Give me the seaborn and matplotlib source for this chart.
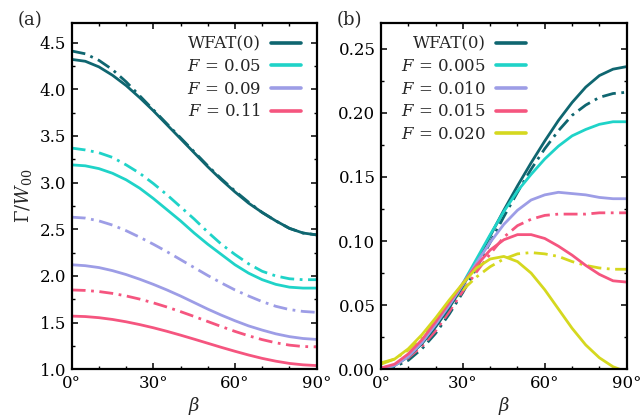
import numpy as np
import pandas as pd
import matplotlib
matplotlib.use("Agg")
import matplotlib.pyplot as plt
from matplotlib.ticker import MultipleLocator, FormatStrFormatter
from matplotlib.lines import Line2D
import seaborn as sns

# ---------------- data ----------------
beta = [0, 5, 10, 15, 20, 25, 30, 35, 40, 45, 50, 55, 60, 65, 70, 75, 80, 85, 90]

# panel (a)
a_labels = ["WFAT(0)", "$F$ = 0.05", "$F$ = 0.09", "$F$ = 0.11"]
a_wfat_solid = [4.32, 4.30, 4.24, 4.15, 4.04, 3.91, 3.77, 3.62, 3.47, 3.32, 3.17, 3.03, 2.90, 2.78, 2.68, 2.59, 2.51, 2.46, 2.44]
a_wfat_dash = [4.41, 4.38, 4.31, 4.21, 4.08, 3.93, 3.78, 3.63, 3.48, 3.33, 3.18, 3.04, 2.91, 2.79, 2.68, 2.59, 2.51, 2.46, 2.44]
a_f005_solid = [3.19, 3.18, 3.15, 3.10, 3.03, 2.94, 2.83, 2.71, 2.59, 2.46, 2.34, 2.23, 2.12, 2.03, 1.96, 1.91, 1.88, 1.87, 1.87]
a_f005_dash = [3.37, 3.35, 3.32, 3.27, 3.19, 3.10, 2.99, 2.87, 2.74, 2.61, 2.47, 2.34, 2.23, 2.13, 2.05, 2.00, 1.97, 1.96, 1.96]
a_f009_solid = [2.12, 2.11, 2.09, 2.057, 2.015, 1.965, 1.91, 1.85, 1.785, 1.715, 1.645, 1.58, 1.52, 1.465, 1.42, 1.38, 1.35, 1.33, 1.32]
a_f009_dash = [2.63, 2.62, 2.59, 2.545, 2.485, 2.415, 2.34, 2.26, 2.175, 2.09, 2.005, 1.925, 1.85, 1.785, 1.725, 1.675, 1.64, 1.62, 1.61]
a_f011_solid = [1.57, 1.565, 1.553, 1.534, 1.509, 1.479, 1.445, 1.407, 1.366, 1.323, 1.279, 1.235, 1.193, 1.153, 1.117, 1.087, 1.063, 1.048, 1.04]
a_f011_dash = [1.85, 1.845, 1.833, 1.813, 1.786, 1.752, 1.712, 1.667, 1.618, 1.566, 1.512, 1.458, 1.406, 1.359, 1.318, 1.284, 1.259, 1.244, 1.24]

# panel (b)
b_labels = ["WFAT(0)", "$F$ = 0.005", "$F$ = 0.010", "$F$ = 0.015", "$F$ = 0.020"]
b_wfat_solid = [0.000, 0.003, 0.010, 0.020, 0.033, 0.048, 0.065, 0.084, 0.104, 0.124, 0.143, 0.161, 0.178, 0.194, 0.208, 0.220, 0.229, 0.234, 0.236]
b_wfat_dash = [0.000, 0.002, 0.007, 0.016, 0.028, 0.043, 0.060, 0.079, 0.099, 0.119, 0.138, 0.156, 0.172, 0.186, 0.198, 0.206, 0.212, 0.215, 0.216]
b_f005_solid = [0.000, 0.003, 0.010, 0.021, 0.035, 0.050, 0.067, 0.086, 0.105, 0.123, 0.139, 0.152, 0.164, 0.174, 0.182, 0.187, 0.191, 0.193, 0.193]
b_f010_solid = [0.000, 0.003, 0.010, 0.021, 0.035, 0.050, 0.066, 0.083, 0.099, 0.113, 0.124, 0.132, 0.136, 0.138, 0.137, 0.136, 0.134, 0.133, 0.133]
b_f015_solid = [0.001, 0.004, 0.012, 0.023, 0.037, 0.052, 0.067, 0.081, 0.093, 0.101, 0.105, 0.105, 0.102, 0.096, 0.089, 0.081, 0.074, 0.069, 0.068]
b_f015_dash = [0.001, 0.003, 0.009, 0.018, 0.030, 0.045, 0.061, 0.076, 0.090, 0.103, 0.112, 0.117, 0.120, 0.121, 0.121, 0.121, 0.122, 0.122, 0.122]
b_f020_solid = [0.004, 0.008, 0.016, 0.027, 0.040, 0.054, 0.067, 0.079, 0.086, 0.088, 0.084, 0.075, 0.062, 0.047, 0.032, 0.019, 0.009, 0.002, -0.002]
b_f020_dash = [0.005, 0.008, 0.015, 0.025, 0.037, 0.050, 0.062, 0.072, 0.080, 0.086, 0.090, 0.091, 0.090, 0.088, 0.084, 0.081, 0.079, 0.078, 0.078]

colors = ["#0f6670", "#1fd3c8", "#9d9de6", "#f5557f", "#d5d81f"]

# ---------------- style ----------------
sns.set_theme(style="ticks")
plt.rcParams["font.family"] = ["DejaVu Serif"]
plt.rcParams["mathtext.fontset"] = "dejavuserif"
plt.rcParams["font.size"] = 12

fig = plt.figure(figsize=(6.44, 4.18), dpi=100)
axA = fig.add_axes([0.1113, 0.1165, 0.3804, 0.8285])
axB = fig.add_axes([0.5916, 0.1165, 0.3815, 0.8285])

LW = 2.0
DASH = (5.0, 2.0, 1.0, 2.0)


def draw(ax, y, color, dashed):
    df = pd.DataFrame({"beta": beta, "val": y})
    sns.lineplot(data=df, x="beta", y="val", ax=ax, color=color, lw=LW, legend=False)
    line = ax.lines[-1]
    if dashed:
        line.set_dashes(DASH)
    line.set_solid_capstyle("butt")
    line.set_dash_capstyle("butt")
    line.set_solid_joinstyle("round")


# panel (a) — draw dashed first, solid on top
a_dash = [a_wfat_dash, a_f005_dash, a_f009_dash, a_f011_dash]
a_solid = [a_wfat_solid, a_f005_solid, a_f009_solid, a_f011_solid]
for y, c in zip(a_dash, colors):
    draw(axA, y, c, True)
for y, c in zip(a_solid, colors):
    draw(axA, y, c, False)

# panel (b)
b_solid = [b_wfat_solid, b_f005_solid, b_f010_solid, b_f015_solid, b_f020_solid]
b_dash = [(b_wfat_dash, colors[0]), (b_f015_dash, colors[3]), (b_f020_dash, colors[4])]
for y, c in b_dash:
    draw(axB, y, c, True)
for y, c in zip(b_solid, colors):
    draw(axB, y, c, False)

for ax in (axA, axB):
    ax.set_xlim(0, 90)
    ax.set_xticks([0, 30, 60, 90])
    ax.set_xticklabels(["0°", "30°", "60°", "90°"])
    ax.xaxis.set_minor_locator(MultipleLocator(10))
    ax.tick_params(which="both", direction="in", top=True, right=True,
                   labelsize=12, pad=4, colors="black")
    ax.tick_params(which="major", length=4, width=1.1)
    ax.tick_params(which="minor", length=2.5, width=1.0)
    for s in ax.spines.values():
        s.set_linewidth(1.6)
        s.set_color("black")
    ax.set_xlabel(r"$\beta$", fontsize=13, labelpad=2)

axA.set_ylim(1.0, 4.71)
axA.set_yticks([1.0, 1.5, 2.0, 2.5, 3.0, 3.5, 4.0, 4.5])
axA.yaxis.set_major_formatter(FormatStrFormatter("%.1f"))
axA.yaxis.set_minor_locator(MultipleLocator(0.25))
axA.set_ylabel(r"$\mathit{\Gamma}/W_{00}$", fontsize=13, labelpad=4)

axB.set_ylim(0.0, 0.270)
axB.set_yticks([0.0, 0.05, 0.10, 0.15, 0.20, 0.25])
axB.yaxis.set_major_formatter(FormatStrFormatter("%.2f"))
axB.yaxis.set_minor_locator(MultipleLocator(0.025))
axB.set_ylabel("")

# legends
hA = [Line2D([], [], color=c, lw=2.6) for c in colors[:4]]
axA.legend(hA, a_labels, loc="upper right", frameon=False, markerfirst=False,
           fontsize=12, handlelength=1.8, handletextpad=0.6, labelspacing=0.34,
           borderaxespad=0.3, bbox_to_anchor=(0.985, 0.998))
hB = [Line2D([], [], color=c, lw=2.6) for c in colors]
axB.legend(hB, b_labels, loc="upper left", frameon=False, markerfirst=False,
           fontsize=12, handlelength=1.8, handletextpad=0.6, labelspacing=0.34,
           borderaxespad=0.3, bbox_to_anchor=(0.033, 0.998))

fig.text(0.028, 0.952, "(a)", fontsize=13, ha="left", va="center")
fig.text(0.523, 0.952, "(b)", fontsize=13, ha="left", va="center")

fig.savefig("out.png", dpi=100)
